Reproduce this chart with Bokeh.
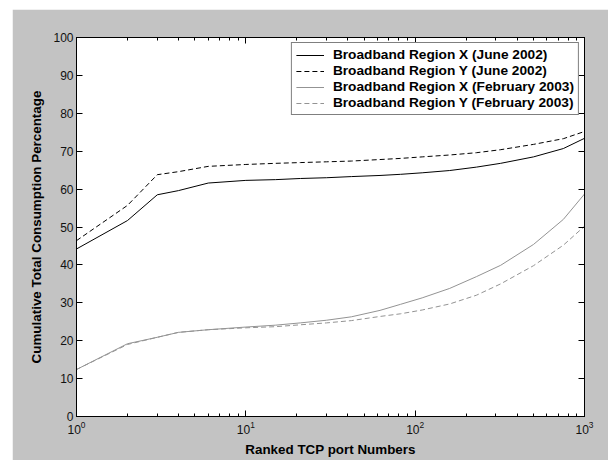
from bokeh.plotting import figure
from bokeh.models import (Range1d, LogAxis, LinearAxis, SingleIntervalTicker, Legend, LegendItem,
                          LogTicker, CustomJSTickFormatter)
from bokeh.embed import file_html
from bokeh.resources import INLINE

ports = [1, 2, 3, 4, 6, 10, 15, 21, 30, 42, 62, 82, 110, 160, 230, 320, 500, 750, 1000]
x_june = [44.2, 51.7, 58.5, 59.6, 61.6, 62.3, 62.5, 62.8, 63.0, 63.3, 63.6, 63.9, 64.3, 64.9, 65.8, 66.8, 68.5, 70.7, 73.4]
y_june = [46.4, 55.7, 63.8, 64.6, 66.0, 66.5, 66.8, 67.0, 67.2, 67.4, 67.8, 68.1, 68.5, 69.0, 69.6, 70.4, 71.8, 73.3, 75.2]
x_feb = [12.4, 19.2, 20.9, 22.2, 22.9, 23.6, 24.1, 24.7, 25.4, 26.3, 28.0, 29.6, 31.3, 33.8, 36.9, 39.9, 45.4, 52.0, 58.7]
y_feb = [12.4, 19.0, 20.9, 22.2, 22.9, 23.4, 23.7, 24.2, 24.7, 25.3, 26.4, 27.1, 28.1, 29.7, 32.0, 35.0, 39.8, 45.2, 50.2]

labels = ["Broadband Region X (June 2002)", "Broadband Region Y (June 2002)",
          "Broadband Region X (February 2003)", "Broadband Region Y (February 2003)"]

FONT = "Liberation Sans"
BG = "#c3c3c3"
GRAY = "#939393"

p = figure(width=596, height=451, x_axis_type="log", output_backend="svg",
           toolbar_location=None, x_range=Range1d(1, 1000), y_range=Range1d(0, 100),
           min_border_left=64, min_border_right=24, min_border_top=28, min_border_bottom=44)
p.margin = (9, 0, 0, 12)
p.background_fill_color = "white"
p.border_fill_color = BG
p.outline_line_color = "black"
p.outline_line_width = 1
p.grid.visible = False

r1 = p.line(ports, x_june, line_color="black", line_width=1)
r2 = p.line(ports, y_june, line_color="black", line_width=1, line_dash="5 3")
r3 = p.line(ports, x_feb, line_color=GRAY, line_width=1)
r4 = p.line(ports, y_feb, line_color=GRAY, line_width=1, line_dash="5 3")

def style(ax):
    ax.major_tick_in = 6
    ax.major_tick_out = 0
    ax.minor_tick_in = 3
    ax.minor_tick_out = 0
    ax.axis_line_color = "black"
    ax.major_tick_line_color = "black"
    ax.minor_tick_line_color = "black"
    ax.major_label_text_font = FONT
    ax.major_label_text_font_size = "12px"
    ax.major_label_text_color = "#111111"
    ax.axis_label_text_font = FONT
    ax.axis_label_text_font_style = "bold"
    ax.axis_label_text_font_size = "13.4px"
    ax.axis_label_text_color = "black"

xa = p.xaxis[0]
style(xa)
xa.axis_label = "Ranked TCP port Numbers"
xa.major_label_standoff = 4
xa.axis_label_standoff = 5
xa.ticker = LogTicker(num_minor_ticks=10)

ya = p.yaxis[0]
style(ya)
ya.axis_label = "Cumulative Total Consumption Percentage"
ya.ticker = SingleIntervalTicker(interval=10, num_minor_ticks=0)
ya.major_label_standoff = 3
ya.axis_label_standoff = 6

top = LogAxis(ticker=LogTicker(num_minor_ticks=10), formatter=CustomJSTickFormatter(code="return ''"))
style(top)
top.major_label_standoff = 0
p.add_layout(top, "above")

right = LinearAxis(ticker=SingleIntervalTicker(interval=10, num_minor_ticks=0),
                   formatter=CustomJSTickFormatter(code="return ''"))
style(right)
right.major_label_standoff = 0
p.add_layout(right, "right")

legend = Legend(items=[LegendItem(label=labels[0], renderers=[r1]),
                       LegendItem(label=labels[1], renderers=[r2]),
                       LegendItem(label=labels[2], renderers=[r3]),
                       LegendItem(label=labels[3], renderers=[r4])],
                location="top_right")
legend.margin = 5
legend.padding = 4
legend.spacing = 1
legend.label_height = 14
legend.glyph_height = 14
legend.glyph_width = 28
legend.label_standoff = 9
legend.label_text_font = FONT
legend.label_text_font_style = "bold"
legend.label_text_font_size = "13.7px"
legend.label_text_color = "black"
legend.border_line_color = "black"
legend.border_line_width = 1
legend.background_fill_color = "white"
legend.background_fill_alpha = 1
p.add_layout(legend, "center")

open("out.html", "w").write(file_html(p, INLINE))
